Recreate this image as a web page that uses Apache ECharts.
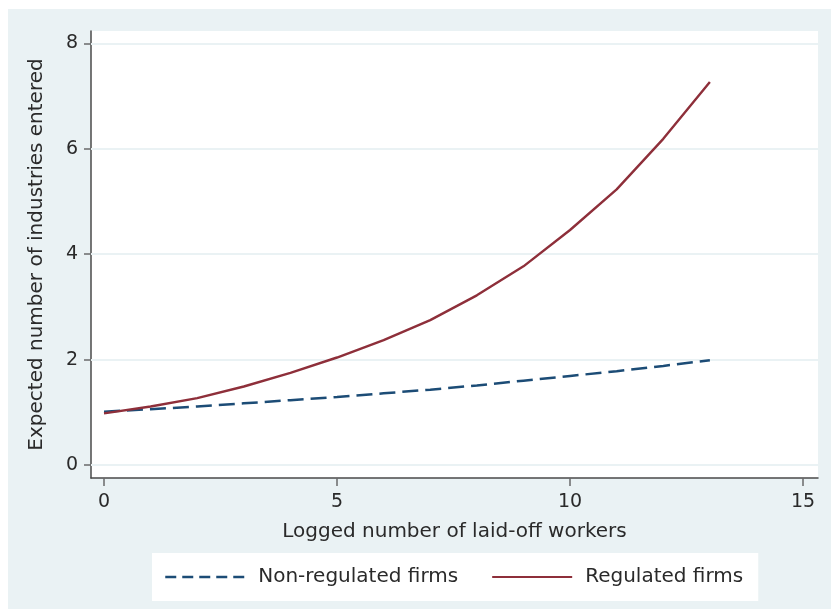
<!DOCTYPE html>
<html>
<head>
<meta charset="utf-8">
<style>
  html, body { margin: 0; padding: 0; background: #ffffff; }
  #chart { width: 831px; height: 609px; }
</style>
<script src="https://cdn.jsdelivr.net/npm/echarts@6/dist/echarts.min.js"></script>
</head>
<body>
<div id="chart"></div>
<script>
// Logged number of laid-off workers (x)
const laidOff = [0, 1, 2, 3, 4, 5, 6, 7, 8, 9, 10, 11, 12, 13];
// Expected number of industries entered
const nonRegulated = [1.01, 1.06, 1.11, 1.17, 1.23, 1.29, 1.36, 1.43, 1.51, 1.60, 1.69, 1.78, 1.88, 1.99];
const regulated = [0.98, 1.11, 1.27, 1.49, 1.75, 2.04, 2.37, 2.75, 3.22, 3.77, 4.46, 5.23, 6.19, 7.27];
const xTicks = [0, 5, 10, 15];
const yTicks = [0, 2, 4, 6, 8];

const FONT = '"DejaVu Sans", "Liberation Sans", Arial, sans-serif';
const TEXT = '#2a2a2a';
const BG = '#eaf2f4';
const NAVY = '#1c4c76';
const CRANBERRY = '#8e2f3a';

const chart = echarts.init(document.getElementById('chart'), null, { renderer: 'canvas' });

const pairs = (ys) => laidOff.map((x, i) => [x, ys[i]]);

chart.setOption({
  animation: false,
  backgroundColor: '#ffffff',
  graphic: [{
    type: 'rect', z: -10, silent: true,
    shape: { x: 8, y: 9, width: 823, height: 600 },
    style: { fill: BG }
  }],
  grid: { left: 91, top: 31, right: 13, bottom: 131, backgroundColor: '#ffffff', show: true, borderWidth: 0 },
  xAxis: {
    type: 'value',
    min: -0.279, max: 15.32,
    name: 'Logged number of laid-off workers',
    nameLocation: 'middle', nameGap: 44,
    nameTextStyle: { fontFamily: FONT, fontSize: 20, color: TEXT },
    axisLine: { show: true, onZero: false, lineStyle: { color: '#4a4a4a', width: 1.5 } },
    axisTick: { show: true, length: 8, customValues: xTicks, lineStyle: { color: '#6a6a6a', width: 1.5 } },
    axisLabel: { customValues: xTicks, margin: 15, fontFamily: FONT, fontSize: 19, color: TEXT },
    splitLine: { show: false }
  },
  yAxis: {
    type: 'value',
    min: -0.247, max: 8.237,
    name: 'Expected number of industries entered',
    nameLocation: 'middle', nameGap: 44, nameRotate: 90,
    nameTextStyle: { fontFamily: FONT, fontSize: 20, color: TEXT },
    axisLine: { show: true, onZero: false, lineStyle: { color: '#4a4a4a', width: 1.5 } },
    axisTick: { show: true, length: 7, customValues: yTicks, lineStyle: { color: '#6a6a6a', width: 1.5 } },
    axisLabel: { customValues: yTicks, margin: 13, fontFamily: FONT, fontSize: 19, color: TEXT },
    splitLine: { show: false }
  },
  legend: {
    left: 152, top: 553,
    padding: [14, 15, 14, 12],
    itemGap: 33, itemWidth: 80, itemHeight: 14,
    backgroundColor: '#ffffff',
    itemStyle: { opacity: 0 },
    textStyle: { fontFamily: FONT, fontSize: 20, color: TEXT, padding: [0, 0, 0, 8] },
    data: [
      { name: 'Non-regulated firms', lineStyle: { type: [11, 6], width: 2.5 } },
      { name: 'Regulated firms' }
    ]
  },
  series: [
    {
      name: 'Non-regulated firms',
      type: 'line',
      data: pairs(nonRegulated),
      showSymbol: false, symbol: 'none',
      lineStyle: { color: NAVY, width: 2.5, type: [16, 7] },
      itemStyle: { color: NAVY },
      z: 3,
      markLine: {
        silent: true, symbol: 'none', label: { show: false }, animation: false, z: 1,
        lineStyle: { color: BG, width: 2, type: 'solid' },
        data: yTicks.map(v => ({ yAxis: v }))
      }
    },
    {
      name: 'Regulated firms',
      type: 'line',
      data: pairs(regulated),
      showSymbol: false, symbol: 'none',
      lineStyle: { color: CRANBERRY, width: 2.4 },
      itemStyle: { color: CRANBERRY },
      z: 4
    }
  ]
});
</script>
</body>
</html>
